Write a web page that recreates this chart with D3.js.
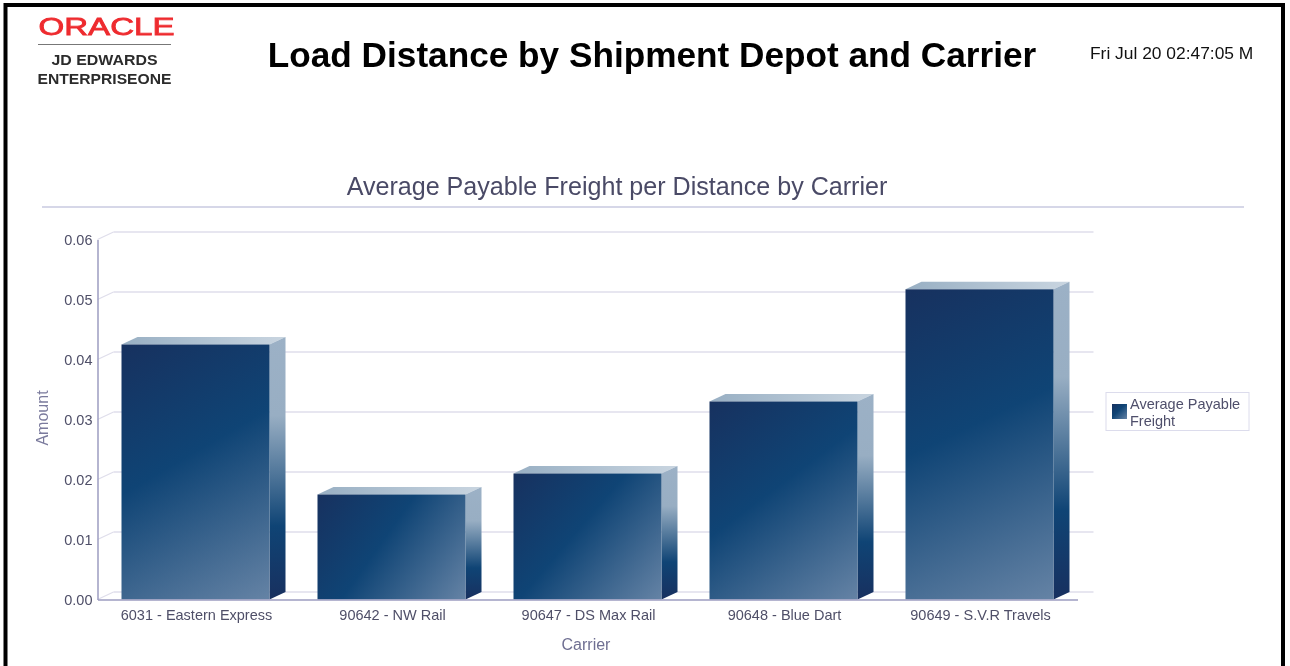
<!DOCTYPE html>
<html>
<head>
<meta charset="utf-8">
<script src="https://cdn.jsdelivr.net/npm/d3@7"></script>
<style>
html,body{margin:0;padding:0;background:#fff;overflow:hidden}
svg{display:block;filter:blur(0.35px)}
text{font-family:"Liberation Sans",Arial,sans-serif}
</style>
</head>
<body>
<svg id="c" width="1290" height="666"></svg>
<script>
const categories = ["6031 - Eastern Express","90642 - NW Rail","90647 - DS Max Rail","90648 - Blue Dart","90649 - S.V.R Travels"];
const values = [0.0425,0.0175,0.021,0.033,0.0517];
const yTicks = [0,0.01,0.02,0.03,0.04,0.05,0.06];
const seriesName = ["Average Payable","Freight"];
const reportTitle = "Load Distance by Shipment Depot and Carrier";
const chartTitle = "Average Payable Freight per Distance by Carrier";
const stamp = "Fri Jul 20 02:47:05 M";

const svg = d3.select("#c");
const defs = svg.append("defs");
const frontStops = [[0,"#17315f"],[0.44,"#0f4475"],[1,"#6583a5"]];
const grad = (id,attrs,stops)=>{
  const g = defs.append("linearGradient").attr("id",id);
  Object.entries(attrs).forEach(([k,v])=>g.attr(k,v));
  stops.forEach(([o,c])=>g.append("stop").attr("offset",o).attr("stop-color",c));
};
grad("side",{x1:0,y1:0,x2:0,y2:1},[[0,"#9cb1c6"],[0.3,"#98aec3"],[0.72,"#0f4475"],[1,"#18305f"]]);
grad("top",{x1:0,y1:0,x2:1,y2:0},[[0,"#98afc3"],[1,"#c9d5e0"]]);
defs.append("clipPath").attr("id","stampClip").append("rect")
  .attr("x",1080).attr("y",40).attr("width",172).attr("height",30);

const inkText="#4f4f68", gridC="#dfdeeb", axisC="#9c9cc0";

// page frame
svg.append("rect").attr("x",5.5).attr("y",5).attr("width",1277.5).attr("height",670)
  .attr("fill","#fff").attr("stroke","#000").attr("stroke-width",4);

// logo
const logo = svg.append("g");
logo.append("text").attr("x",106.5).attr("y",35).attr("text-anchor","middle")
  .attr("font-size",24).attr("fill","#ee2b2f").attr("stroke","#ee2b2f").attr("stroke-width",0.8)
  .attr("textLength",136).attr("lengthAdjust","spacingAndGlyphs").text("ORACLE");
logo.append("line").attr("x1",38).attr("x2",171).attr("y1",44.5).attr("y2",44.5).attr("stroke","#777").attr("stroke-width",1);
logo.append("text").attr("x",104.5).attr("y",65).attr("text-anchor","middle").attr("font-size",15.5).attr("font-weight","bold").attr("fill","#2b2b2b")
  .attr("textLength",106).attr("lengthAdjust","spacingAndGlyphs").text("JD EDWARDS");
logo.append("text").attr("x",104.5).attr("y",84).attr("text-anchor","middle").attr("font-size",15.5).attr("font-weight","bold").attr("fill","#2b2b2b")
  .attr("textLength",134).attr("lengthAdjust","spacingAndGlyphs").text("ENTERPRISEONE");

// header
svg.append("text").attr("x",652).attr("y",67).attr("text-anchor","middle")
  .attr("font-size",35.2).attr("font-weight","bold").attr("fill","#000").text(reportTitle);
svg.append("text").attr("x",1090).attr("y",59).attr("font-size",17.4).attr("fill","#111")
  .attr("clip-path","url(#stampClip)").text(stamp);

svg.append("text").attr("x",617).attr("y",195).attr("text-anchor","middle")
  .attr("font-size",25.1).attr("fill","#4a4a66").text(chartTitle);
svg.append("line").attr("x1",42).attr("x2",1244).attr("y1",207).attr("y2",207).attr("stroke","#c9cae0").attr("stroke-width",1.5);

// chart
const depthX=16, depthY=7.5;
const y = d3.scaleLinear().domain([0,0.06]).range([599.5,239.5]);
const x = d3.scaleBand().domain(categories).range([97.5,1077.5]).paddingInner(48/196).paddingOuter(24/196);

const grid = svg.append("g");
grid.selectAll("g").data(yTicks).join("g").each(function(t){
  const g=d3.select(this), yy=y(t);
  g.append("line").attr("x1",x.range()[0]+depthX).attr("x2",x.range()[1]+depthX)
    .attr("y1",yy-depthY).attr("y2",yy-depthY).attr("stroke",gridC).attr("stroke-width",1.5);
  g.append("line").attr("x1",x.range()[0]).attr("x2",x.range()[0]+depthX)
    .attr("y1",yy).attr("y2",yy-depthY).attr("stroke",gridC).attr("stroke-width",1.2);
});

// bars
const bars = svg.append("g").selectAll("g").data(categories.map((c,i)=>({c,v:values[i],i}))).join("g");
bars.each(d=>{
  const g = defs.append("linearGradient").attr("id","front"+d.i).attr("gradientUnits","userSpaceOnUse")
    .attr("x1",x(d.c)).attr("y1",y(d.v)).attr("x2",x(d.c)+x.bandwidth()).attr("y2",y(0));
  frontStops.forEach(([o,c])=>g.append("stop").attr("offset",o).attr("stop-color",c));
});
bars.append("path").attr("fill","url(#top)").attr("d",d=>{
  const a=x(d.c),b=a+x.bandwidth(),t=y(d.v);
  return `M${a},${t}L${a+depthX},${t-depthY}L${b+depthX},${t-depthY}L${b},${t}Z`;
});
bars.append("path").attr("fill","url(#side)").attr("d",d=>{
  const b=x(d.c)+x.bandwidth(),t=y(d.v),z=y(0);
  return `M${b},${t}L${b+depthX},${t-depthY}L${b+depthX},${z-depthY}L${b},${z}Z`;
});
bars.append("rect").attr("fill",d=>`url(#front${d.i})`)
  .attr("x",d=>x(d.c)).attr("y",d=>y(d.v))
  .attr("width",x.bandwidth()).attr("height",d=>y(0)-y(d.v));

// axes
const yAxis = svg.append("g").attr("transform",`translate(${x.range()[0]},0)`)
  .call(d3.axisLeft(y).tickValues(yTicks).tickFormat(d3.format(".2f")).tickSize(0).tickPadding(5));
yAxis.select(".domain").attr("stroke",axisC).attr("stroke-width",1.5);
yAxis.selectAll("text").attr("font-size",14.5).attr("fill",inkText).attr("font-family","Liberation Sans");

const xAxis = svg.append("g").attr("transform",`translate(0,${y(0)})`)
  .call(d3.axisBottom(x).tickSize(0).tickPadding(10));
xAxis.select(".domain").attr("stroke",axisC).attr("stroke-width",1.5);
xAxis.selectAll("text").attr("font-size",14.5).attr("fill",inkText).attr("font-family","Liberation Sans").attr("dx",1);

svg.append("text").attr("transform","translate(48,418) rotate(-90)").attr("text-anchor","middle")
  .attr("font-size",16).attr("fill","#7b7b9d").text("Amount");
svg.append("text").attr("x",586).attr("y",650).attr("text-anchor","middle")
  .attr("font-size",16).attr("fill","#6f6f92").text("Carrier");

// legend
svg.append("rect").attr("x",1106).attr("y",392.5).attr("width",143).attr("height",38)
  .attr("fill","#fff").attr("stroke","#dcdcec").attr("stroke-width",1);
const swatch = defs.append("linearGradient").attr("id","swatch").attr("x1",0).attr("y1",0).attr("x2",1).attr("y2",1);
frontStops.forEach(([o,c])=>swatch.append("stop").attr("offset",o).attr("stop-color",c));
svg.append("rect").attr("x",1112).attr("y",404).attr("width",15).attr("height",15).attr("fill","url(#swatch)");
svg.append("g").selectAll("text").data(seriesName).join("text")
  .attr("x",1130).attr("y",(d,i)=>409+i*16.5).attr("font-size",14.5).attr("fill","#4f4f6b").text(d=>d);
</script>
</body>
</html>
